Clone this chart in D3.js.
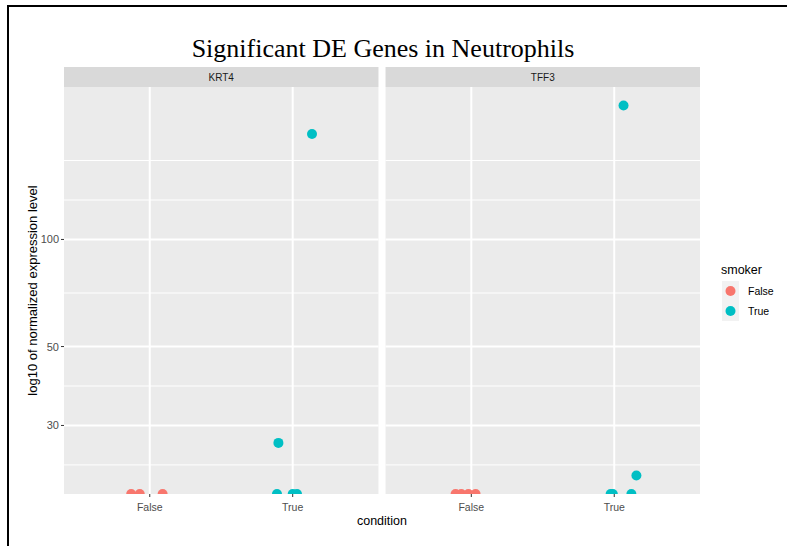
<!doctype html>
<html>
  <head>
    <script src="https://d3js.org/d3.v7.min.js"></script>
    <style>
      body { margin: 0; background: #fff; }
      text { font-family: "Liberation Sans", Arial, sans-serif; }
    </style>
  </head>
  <body>
    <div id="chart"></div>
    <script>
      // facet panels and x categories
      var genes = ["KRT4", "TFF3"];
      var conditions = ["False", "True"];
      var yBreaks = [30, 50, 100];

      // points: gene, condition, small jitter along x, expression (0 = -Inf on log scale)
      var ptGene   = ["KRT4","KRT4","KRT4","KRT4","KRT4","KRT4","KRT4","KRT4",
                      "TFF3","TFF3","TFF3","TFF3","TFF3","TFF3","TFF3","TFF3","TFF3"];
      var ptCond   = ["False","False","False","True","True","True","True","True",
                      "False","False","False","False","True","True","True","True","True"];
      var ptJitter = [-0.13, -0.07, 0.09, -0.11, -0.10, 0.0, 0.03, 0.135,
                      -0.11, -0.07, -0.02, 0.03, -0.025, -0.01, 0.065, 0.12, 0.155];
      var ptValue  = [0, 0, 0, 0, 26.8, 0, 0, 198,
                      0, 0, 0, 0, 0, 0, 238, 0, 21.7];

      var colors = { "False": "#F8766D", "True": "#00BFC4" };

      var width = 787, height = 546;
      var svg = d3.select("#chart").append("svg")
        .attr("width", width).attr("height", height);

      // border of the exported picture
      svg.append("line").attr("x1", 8).attr("x2", 8).attr("y1", 5).attr("y2", height)
        .attr("stroke", "#000").attr("stroke-width", 2);
      svg.append("line").attr("x1", 7).attr("x2", width).attr("y1", 6).attr("y2", 6)
        .attr("stroke", "#000").attr("stroke-width", 2);

      // title
      svg.append("text").attr("x", 383).attr("y", 57)
        .attr("text-anchor", "middle")
        .style("font-family", "'Liberation Serif', 'Times New Roman', serif")
        .style("font-size", "26px").attr("fill", "#000")
        .text("Significant DE Genes in Neutrophils");

      var panelTop = 87, panelBottom = 494, stripH = 20;
      var panelX = d3.scaleBand().domain(genes).range([64, 700]).paddingInner(0.022);

      // log10 scale, range from finite values with ggplot's 5% expansion
      var finite = ptValue.filter(function(v) { return v > 0; });
      var lo = Math.log10(d3.min(finite)), hi = Math.log10(d3.max(finite));
      var pad = (hi - lo) * 0.05;
      var y = d3.scaleLog()
        .domain([Math.pow(10, lo - pad), Math.pow(10, hi + pad)])
        .range([panelBottom, panelTop]);

      // minor breaks in log space, like ggplot regular_minor_breaks
      var lb = yBreaks.map(Math.log10);
      var bd = lb[1] - lb[0];
      var ext = [lb[0] - bd].concat(lb).concat([lb[lb.length - 1] + bd]);
      var minor = [];
      for (var i = 0; i < ext.length - 1; i++) minor.push((ext[i] + ext[i + 1]) / 2);
      minor.push(ext[ext.length - 1]);
      minor = minor.filter(function(m) { return m >= y.domain().map(Math.log10)[0] && m <= Math.log10(y.domain()[1]); });

      genes.forEach(function(g, gi) {
        var x0 = panelX(g), w = panelX.bandwidth();
        var x = d3.scaleLinear().domain([0.4, 2.6]).range([x0, x0 + w]);
        var pos = function(c) { return conditions.indexOf(c) + 1; };

        var p = svg.append("g");
        p.append("rect").attr("x", x0).attr("y", panelTop).attr("width", w)
          .attr("height", panelBottom - panelTop).attr("fill", "#EBEBEB");

        // strip
        p.append("rect").attr("x", x0).attr("y", panelTop - stripH).attr("width", w)
          .attr("height", stripH).attr("fill", "#D9D9D9");
        p.append("text").attr("x", x0 + w / 2).attr("y", panelTop - stripH / 2 + 3.5)
          .attr("text-anchor", "middle").style("font-size", "10px").attr("fill", "#1A1A1A")
          .text(g);

        p.selectAll(".minor").data(minor).enter().append("line")
          .attr("x1", x0).attr("x2", x0 + w)
          .attr("y1", function(m) { return y(Math.pow(10, m)); })
          .attr("y2", function(m) { return y(Math.pow(10, m)); })
          .attr("stroke", "#fff").attr("stroke-width", 1);
        p.selectAll(".major").data(yBreaks).enter().append("line")
          .attr("x1", x0).attr("x2", x0 + w)
          .attr("y1", function(d) { return y(d); }).attr("y2", function(d) { return y(d); })
          .attr("stroke", "#fff").attr("stroke-width", 2);
        p.selectAll(".vmajor").data(conditions).enter().append("line")
          .attr("x1", function(c) { return x(pos(c)); }).attr("x2", function(c) { return x(pos(c)); })
          .attr("y1", panelTop).attr("y2", panelBottom)
          .attr("stroke", "#fff").attr("stroke-width", 2);

        // points, clipped to the panel
        var clipId = "clip" + gi;
        svg.append("clipPath").attr("id", clipId).append("rect")
          .attr("x", x0).attr("y", panelTop).attr("width", w).attr("height", panelBottom - panelTop);
        var idx = d3.range(ptGene.length).filter(function(k) { return ptGene[k] === g; });
        p.append("g").attr("clip-path", "url(#" + clipId + ")")
          .selectAll("circle").data(idx).enter().append("circle")
          .attr("cx", function(k) { return x(pos(ptCond[k]) + ptJitter[k]); })
          .attr("cy", function(k) { return ptValue[k] > 0 ? y(ptValue[k]) : panelBottom; })
          .attr("r", 5)
          .attr("fill", function(k) { return colors[ptCond[k]]; });

        // x axis
        var xa = p.append("g");
        conditions.forEach(function(c) {
          xa.append("line").attr("x1", x(pos(c))).attr("x2", x(pos(c)))
            .attr("y1", panelBottom).attr("y2", panelBottom + 3)
            .attr("stroke", "#333").attr("stroke-width", 1);
          xa.append("text").attr("x", x(pos(c))).attr("y", panelBottom + 17)
            .attr("text-anchor", "middle").style("font-size", "10.5px").attr("fill", "#4D4D4D")
            .text(c);
        });

        // y axis on the first panel only
        if (gi === 0) {
          yBreaks.forEach(function(b) {
            p.append("line").attr("x1", x0 - 3).attr("x2", x0)
              .attr("y1", y(b)).attr("y2", y(b)).attr("stroke", "#333");
            p.append("text").attr("x", x0 - 5).attr("y", y(b) + 4)
              .attr("text-anchor", "end").style("font-size", "11px").attr("fill", "#4D4D4D")
              .text(b);
          });
        }
      });

      // axis titles
      svg.append("text").attr("x", 382).attr("y", 525)
        .attr("text-anchor", "middle").style("font-size", "12.5px").attr("fill", "#000")
        .text("condition");
      svg.append("text")
        .attr("transform", "translate(37," + ((panelTop + panelBottom) / 2) + ") rotate(-90)")
        .attr("text-anchor", "middle").style("font-size", "13px").attr("fill", "#000")
        .text("log10 of normalized expression level");

      // legend
      var lg = svg.append("g");
      lg.append("text").attr("x", 721).attr("y", 274).style("font-size", "12.5px")
        .attr("fill", "#000").text("smoker");
      conditions.forEach(function(c, i) {
        var ky = 281 + i * 20;
        lg.append("rect").attr("x", 722).attr("y", ky).attr("width", 17).attr("height", 20)
          .attr("fill", "#F2F2F2");
        lg.append("circle").attr("cx", 730.5).attr("cy", ky + 10).attr("r", 5)
          .attr("fill", colors[c]);
        lg.append("text").attr("x", 748).attr("y", ky + 14).style("font-size", "10.5px")
          .attr("fill", "#000").text(c);
      });
    </script>
  </body>
</html>
